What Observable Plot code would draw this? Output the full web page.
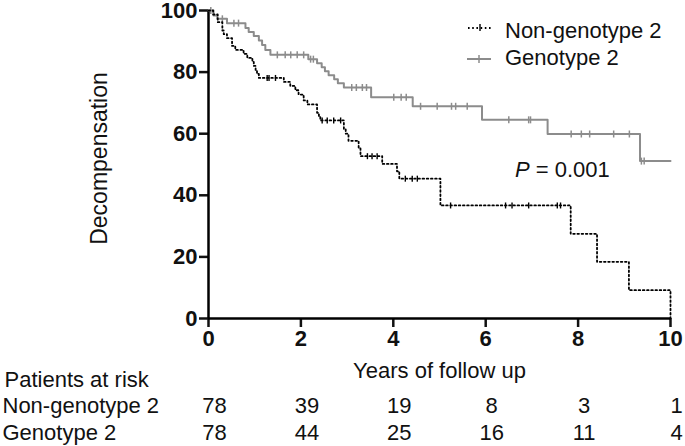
<!DOCTYPE html>
<html>
<head>
<meta charset="utf-8">
<script src="https://cdn.jsdelivr.net/npm/d3@7"></script>
<script src="https://cdn.jsdelivr.net/npm/@observablehq/plot@0.6"></script>
<style>
  html, body { margin: 0; padding: 0; background: #fff; }
  #wrap { position: relative; width: 685px; height: 446px; font-family: "Liberation Sans", Arial, sans-serif; }
  .ov { position: absolute; font-size: 22px; line-height: 22px; white-space: nowrap; color: #111; }
  .sw { position: absolute; left: 0; top: 0; }
</style>
</head>
<body>
<div id="wrap"></div>
<script>
// ---- Data ----
const nonTimes = [0, 0.10, 0.20, 0.30, 0.33, 0.40, 0.51, 0.58, 0.76, 0.84, 0.95, 0.98, 1.02, 1.05, 1.09, 1.63, 1.77, 1.88, 1.95, 2.06, 2.14, 2.35, 2.39, 2.42, 2.93, 2.97, 3.03, 3.25, 3.29, 3.76, 4.08, 4.13, 5.02, 7.84, 8.41, 9.10, 10.0];
const nonSurv  = [100, 98.7, 96.2, 93.5, 92.3, 91.0, 88.5, 87.2, 85.9, 84.6, 83.3, 82.0, 80.7, 79.4, 78.1, 76.8, 75.5, 74.1, 72.7, 70.8, 69.5, 66.8, 65.5, 64.3, 61.5, 60.0, 57.7, 55.2, 52.7, 50.2, 47.8, 45.4, 36.7, 27.5, 18.4, 9.2, 0];
const nonCensor = [1.27, 1.31, 1.45, 2.46, 2.57, 2.71, 2.86, 3.44, 3.54, 3.65, 4.26, 4.41, 4.52, 5.24, 6.43, 6.57, 6.93, 7.55, 7.62];

const genTimes = [0, 0.11, 0.19, 0.40, 0.80, 0.87, 0.98, 1.09, 1.16, 1.23, 1.34, 2.16, 2.35, 2.45, 2.52, 2.60, 2.72, 2.80, 2.93, 3.52, 4.42, 5.92, 7.34, 9.34, 10.0];
const genSurv  = [100, 98.4, 97.3, 95.9, 94.3, 93.0, 91.7, 90.3, 88.8, 87.2, 85.6, 84.2, 82.9, 81.6, 80.3, 79.0, 77.7, 76.4, 75.0, 71.8, 68.9, 64.5, 59.9, 51.1, 51.1];
const genCensor = [0.05, 0.30, 0.55, 0.65, 1.49, 1.66, 1.78, 1.92, 2.06, 2.21, 2.27, 3.10, 3.20, 3.33, 3.42, 4.01, 4.17, 4.28, 4.59, 4.95, 5.26, 5.35, 5.60, 6.50, 6.93, 6.97, 7.85, 8.07, 8.25, 8.77, 9.11, 9.37, 9.43];

const seriesNames = ["Non-genotype 2", "Genotype 2"];
const xTicks = [0, 2, 4, 6, 8, 10];
const yTicks = [0, 20, 40, 60, 80, 100];
const riskTimes = [0, 2, 4, 6, 8, 10];
const riskNon = [78, 39, 19, 8, 3, 1];
const riskGen = [78, 44, 25, 16, 11, 4];
const xLabel = "Years of follow up";
const yLabel = "Decompensation";
const riskTitle = "Patients at risk";
const pValue = "0.001";

// ---- Build tables ----
const toRows = (ts, ss) => ts.map((t, i) => ({t, s: ss[i]}));
const levelAt = (ts, ss, t) => { let v = ss[0]; for (let i = 0; i < ts.length; i++) if (ts[i] <= t) v = ss[i]; return v; };
const nonData = toRows(nonTimes, nonSurv);
const genData = toRows(genTimes, genSurv);
const nonCens = nonCensor.map(t => ({t, s: levelAt(nonTimes, nonSurv, t)}));
const genCens = genCensor.map(t => ({t, s: levelAt(genTimes, genSurv, t)}));

const vbar = { draw(ctx, size) { const h = Math.sqrt(size / Math.PI); ctx.moveTo(0, -h); ctx.lineTo(0, h); } };
const GREY = "#8c8c8c";
const FONT = "'Liberation Sans', Arial, sans-serif";

const chart = Plot.plot({
  width: 685,
  height: 446,
  marginLeft: 208,
  marginRight: 15,
  marginTop: 10,
  marginBottom: 128,
  style: { fontFamily: FONT, fontSize: "22px", background: "white", overflow: "visible", color: "#111" },
  x: { domain: [0, 10] },
  y: { domain: [0, 100] },
  marks: [
    Plot.axisY({ ticks: yTicks, tickSize: 9, tickPadding: 2, fontSize: 22, fontWeight: "bold", strokeWidth: 2.5, label: null }),
    Plot.axisX({ ticks: xTicks, tickSize: 9, tickPadding: 3, fontSize: 22, fontWeight: "bold", strokeWidth: 2.5, label: null }),
    Plot.ruleX([0], { strokeWidth: 2.5, stroke: "black" }),
    Plot.ruleY([0], { strokeWidth: 2.5, stroke: "black" }),
    Plot.line(genData, { x: "t", y: "s", curve: "step-after", stroke: GREY, strokeWidth: 2 }),
    Plot.dot(genCens, { x: "t", y: "s", symbol: vbar, r: 3.5, stroke: GREY, strokeWidth: 1.5, fill: "none" }),
    Plot.line(nonData, { x: "t", y: "s", curve: "step-after", stroke: "black", strokeWidth: 1.8, strokeDasharray: "1.6,2.6" }),
    Plot.dot(nonCens, { x: "t", y: "s", symbol: vbar, r: 3, stroke: "black", strokeWidth: 1.4, fill: "none" }),
    // axis titles
    Plot.text([yLabel], { frameAnchor: "left", rotate: -90, dx: -109, dy: -6, fontSize: 23, textAnchor: "middle", lineAnchor: "middle" }),
    Plot.text([xLabel], { frameAnchor: "bottom", dy: 52, fontSize: 22, lineAnchor: "middle" }),
    // at-risk table
    Plot.text([riskTitle], { frameAnchor: "bottom-left", dx: -204, dy: 61, fontSize: 22, textAnchor: "start", lineAnchor: "middle" }),
    Plot.text([seriesNames[0]], { frameAnchor: "bottom-left", dx: -206, dy: 87, fontSize: 22, textAnchor: "start", lineAnchor: "middle" }),
    Plot.text([seriesNames[1]], { frameAnchor: "bottom-left", dx: -206, dy: 114, fontSize: 22, textAnchor: "start", lineAnchor: "middle" }),
    Plot.text(riskNon, { x: riskTimes, text: d => d, frameAnchor: "bottom", dx: 6, dy: 87, fontSize: 22, lineAnchor: "middle" }),
    Plot.text(riskGen, { x: riskTimes, text: d => d, frameAnchor: "bottom", dx: 6, dy: 114, fontSize: 22, lineAnchor: "middle" })
  ]
});

const wrap = document.getElementById("wrap");
wrap.appendChild(chart);

// legend + p-value overlay
const ns = "http://www.w3.org/2000/svg";
const sw = document.createElementNS(ns, "svg");
sw.setAttribute("class", "sw");
sw.setAttribute("width", 685);
sw.setAttribute("height", 446);
sw.innerHTML =
  `<line x1="468" x2="491" y1="28" y2="28" stroke="black" stroke-width="1.8" stroke-dasharray="1.6,2.6"/>` +
  `<line x1="480" x2="480" y1="24" y2="31" stroke="black" stroke-width="1.4"/>` +
  `<line x1="467" x2="491" y1="59" y2="59" stroke="${GREY}" stroke-width="2"/>` +
  `<line x1="479" x2="479" y1="55" y2="63" stroke="${GREY}" stroke-width="1.5"/>`;
wrap.appendChild(sw);

function ov(html, left, top) {
  const d = document.createElement("div");
  d.className = "ov";
  d.style.left = left + "px";
  d.style.top = top + "px";
  d.innerHTML = html;
  wrap.appendChild(d);
}
ov(seriesNames[0], 505, 20);
ov(seriesNames[1], 505, 47);
ov(`<i>P</i> = ${pValue}`, 515, 159);
</script>
</body>
</html>
